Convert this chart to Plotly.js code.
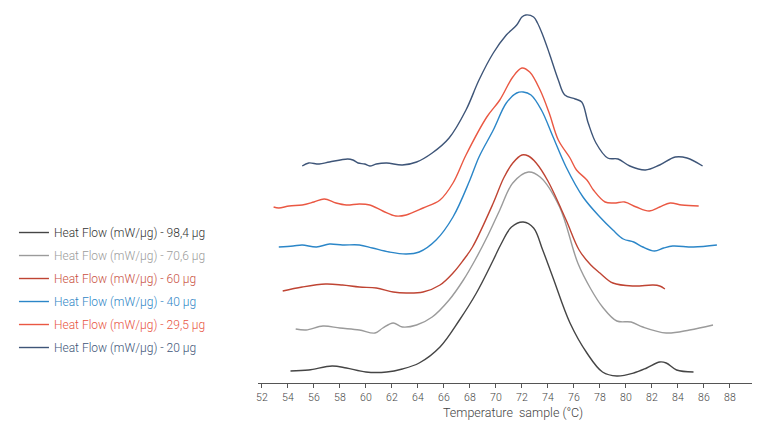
<!DOCTYPE html>
<html>
<head>
<meta charset="utf-8">
<script src="https://cdn.plot.ly/plotly-3.0.1.min.js"></script>
<style>
  html, body { margin: 0; padding: 0; background: #fff; }
  #chart { width: 768px; height: 425px; }
</style>
</head>
<body>
<div id="chart"></div>
<script>
// Heat flow curves, offset vertically (arbitrary units)
const temp20 = [55.1, 55.6, 56.4, 57.2, 58.6, 59.0, 59.4, 59.9, 60.3, 60.8, 61.6, 62.8, 63.9, 65.1, 66.4, 67.7, 68.7, 69.8, 70.8, 71.6, 72.0, 72.3, 72.9, 73.2, 73.6, 74.1, 74.8, 75.3, 76.1, 76.6, 77.1, 77.7, 78.6, 79.4, 80.3, 81.5, 82.6, 83.8, 84.7, 85.9];
const flow20 = [21.7, 22.0, 21.9, 22.1, 22.4, 22.3, 22.0, 21.9, 21.7, 21.9, 22.0, 21.8, 22.1, 23.0, 24.5, 27.3, 30.3, 33.0, 34.8, 35.8, 36.6, 36.8, 36.6, 36.0, 34.8, 33.0, 30.3, 28.8, 28.4, 28.1, 26.0, 24.0, 22.5, 22.4, 21.7, 21.3, 21.8, 22.6, 22.5, 21.7];

const temp295 = [52.9, 53.3, 54.1, 55.1, 56.0, 56.8, 57.7, 58.5, 59.5, 60.3, 61.3, 62.3, 63.1, 64.4, 65.7, 66.7, 67.7, 69.3, 70.3, 71.3, 72.0, 72.6, 73.4, 74.1, 74.8, 75.7, 76.2, 77.0, 77.5, 78.4, 79.1, 79.9, 80.8, 81.8, 82.6, 83.4, 84.3, 85.6];
const flow295 = [17.6, 17.5, 17.7, 17.8, 18.1, 18.4, 18.0, 17.8, 17.9, 17.8, 17.2, 16.7, 16.8, 17.5, 18.3, 20.0, 22.8, 26.6, 28.3, 30.6, 31.5, 31.1, 29.3, 27.0, 24.3, 22.5, 21.3, 20.3, 19.3, 18.1, 18.0, 18.1, 17.6, 17.2, 17.6, 18.0, 17.8, 17.7];

const temp40 = [53.3, 54.4, 55.1, 56.2, 57.2, 58.2, 59.5, 60.5, 61.8, 63.1, 64.1, 65.4, 66.7, 68.0, 68.7, 69.8, 70.8, 71.6, 72.1, 72.7, 73.5, 74.4, 75.4, 76.7, 78.0, 79.0, 79.8, 80.6, 81.3, 82.2, 82.9, 83.6, 85.2, 87.0];
const flow40 = [13.6, 13.7, 13.8, 13.6, 13.9, 13.8, 13.8, 13.5, 13.1, 12.9, 13.1, 14.3, 16.6, 20.3, 22.6, 25.3, 28.0, 29.0, 29.1, 28.8, 27.3, 24.6, 21.6, 18.6, 16.6, 15.3, 14.4, 14.1, 13.6, 13.2, 13.5, 13.7, 13.6, 13.8];

const temp60 = [53.6, 55.1, 56.9, 58.2, 59.5, 60.8, 62.1, 63.1, 64.4, 65.7, 66.7, 67.5, 68.2, 69.8, 70.6, 71.3, 72.0, 72.5, 73.1, 74.0, 75.4, 76.4, 77.3, 78.0, 79.0, 80.6, 82.1, 82.6, 83.0];
const flow60 = [9.2, 9.6, 9.9, 9.8, 9.6, 9.5, 9.1, 9.0, 9.1, 9.8, 11.0, 12.3, 13.6, 18.0, 20.5, 22.0, 22.8, 22.7, 22.0, 20.2, 16.3, 13.3, 11.8, 11.0, 10.0, 9.7, 9.8, 9.7, 9.4];

const temp706 = [54.6, 55.4, 56.7, 58.0, 59.5, 60.7, 61.3, 62.1, 62.8, 63.9, 65.1, 66.4, 67.5, 68.4, 69.4, 70.3, 71.3, 72.5, 73.4, 74.9, 76.3, 77.3, 78.2, 79.3, 80.4, 81.3, 83.1, 84.9, 86.7];
const flow706 = [5.4, 5.3, 5.7, 5.5, 5.3, 5.0, 5.5, 6.0, 5.6, 5.8, 6.6, 8.3, 10.3, 12.3, 14.8, 17.3, 20.0, 21.1, 20.6, 17.6, 12.0, 9.4, 7.6, 6.2, 6.1, 5.6, 5.0, 5.3, 5.8];

const temp984 = [54.2, 55.6, 57.4, 58.5, 60.0, 61.6, 62.8, 64.1, 65.7, 67.2, 68.5, 69.8, 70.4, 71.2, 72.1, 72.9, 73.6, 74.4, 75.7, 77.0, 78.2, 79.3, 80.6, 81.6, 82.6, 83.1, 83.9, 85.2];
const flow984 = [1.2, 1.3, 1.7, 1.5, 1.1, 1.1, 1.4, 2.0, 3.6, 6.3, 9.0, 12.3, 13.9, 15.6, 16.1, 15.5, 13.3, 10.5, 6.0, 3.0, 1.1, 0.7, 1.0, 1.5, 2.1, 2.0, 1.3, 1.1];

const names = ['Heat Flow (mW/µg) - 98,4 µg', 'Heat Flow (mW/µg) - 70,6 µg', 'Heat Flow (mW/µg) - 60 µg',
  'Heat Flow (mW/µg) - 40 µg', 'Heat Flow (mW/µg) - 29,5 µg', 'Heat Flow (mW/µg) - 20 µg'];
const lineColors = ['#454545', '#9b9b9b', '#bf4433', '#2b86c8', '#ea5843', '#3e5578'];
const textColors = ['#333333', '#9b9b9b', '#c9503f', '#2f86c6', '#e8533f', '#3e5578'];
const xs = [temp984, temp706, temp60, temp40, temp295, temp20];
const ys = [flow984, flow706, flow60, flow40, flow295, flow20];

const tickVals = [52, 54, 56, 58, 60, 62, 64, 66, 68, 70, 72, 74, 76, 78, 80, 82, 84, 86, 88];
const xTitle = 'Temperature  sample (°C)';

const traces = names.map((n, i) => ({
  x: xs[i],
  y: ys[i],
  type: 'scatter',
  mode: 'lines',
  name: `<span style="color:${textColors[i]}">${n}</span>`,
  legendgroup: 'g' + i,
  line: { color: lineColors[i], width: 1.4, shape: 'spline', smoothing: 1 }
}));

Plotly.newPlot('chart', traces, {
  width: 768,
  height: 425,
  paper_bgcolor: '#fff',
  plot_bgcolor: '#fff',
  margin: { t: 5, l: 258, r: 16, b: 42 },
  font: { family: 'Roboto, sans-serif', color: '#444', size: 11, weight: 300 },
  showlegend: true,
  legend: {
    x: -0.494,
    xanchor: 'left',
    y: 0.246,
    yanchor: 'middle',
    font: { size: 12, weight: 300 },
    itemwidth: 30,
    tracegroupgap: 4,
    bgcolor: 'rgba(0,0,0,0)'
  },
  xaxis: {
    range: [51.7, 89.7],
    tickvals: tickVals,
    ticks: 'outside',
    ticklen: 4,
    tickcolor: '#555',
    showline: true,
    linecolor: '#555',
    linewidth: 1,
    showgrid: false,
    zeroline: false,
    tickfont: { size: 10.5, color: '#444', weight: 300 }
  },
  yaxis: {
    range: [0, 37.8],
    visible: false,
    showgrid: false,
    zeroline: false
  },
  annotations: [{
    text: xTitle,
    xref: 'paper', yref: 'paper',
    x: 0.516, y: -0.077,
    xanchor: 'center', yanchor: 'middle',
    showarrow: false,
    font: { size: 12.5, color: '#444', weight: 300 }
  }]
}, { displayModeBar: false, staticPlot: true });
</script>
</body>
</html>
